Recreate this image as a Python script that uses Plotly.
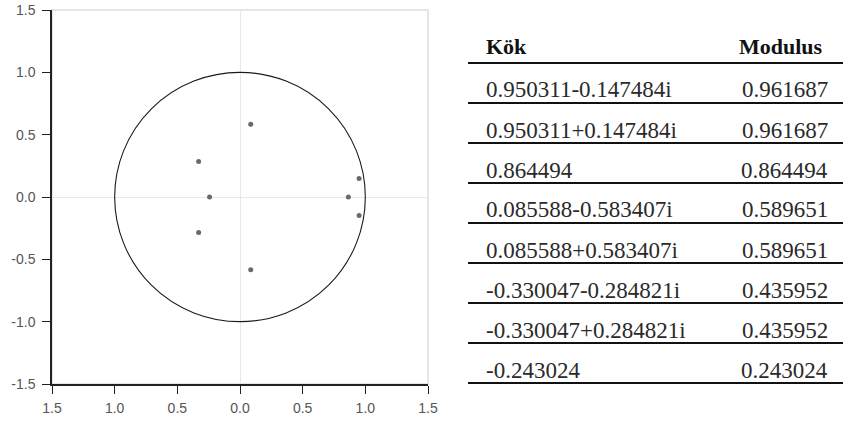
import plotly.graph_objects as go

# ---- data ----
root_re = [0.950311, 0.950311, 0.864494, 0.085588, 0.085588, -0.330047, -0.330047, -0.243024]
root_im = [-0.147484, 0.147484, 0.0, -0.583407, 0.583407, -0.284821, 0.284821, 0.0]
root_labels = ["0.950311-0.147484i", "0.950311+0.147484i", "0.864494",
               "0.085588-0.583407i", "0.085588+0.583407i", "-0.330047-0.284821i",
               "-0.330047+0.284821i", "-0.243024"]
modulus_labels = ["0.961687", "0.961687", "0.864494", "0.589651", "0.589651",
                  "0.435952", "0.435952", "0.243024"]
header = ["Kök", "Modulus"]
tick_vals = [-1.5, -1.0, -0.5, 0.0, 0.5, 1.0, 1.5]
x_tick_text = ["1.5", "1.0", "0.5", "0.0", "0.5", "1.0", "1.5"]
y_tick_text = ["-1.5", "-1.0", "-0.5", "0.0", "0.5", "1.0", "1.5"]

W, H = 843, 421
L, R, T, B = 52, 428, 10, 384  # plot area in pixels


def px(xp):
    return (xp - L) / (R - L)


def py(yp):
    return (B - yp) / (B - T)


fig = go.Figure()
fig.add_trace(go.Scatter(x=root_re, y=root_im, mode="markers",
                         marker=dict(size=5, color="#6a6a6a", symbol="circle"),
                         showlegend=False, hoverinfo="x+y"))

shapes = []
# light frame (top / right)
shapes.append(dict(type="rect", xref="paper", yref="paper", x0=0, x1=1, y0=0, y1=1,
                   line=dict(color="#dddddd", width=1.5), layer="below"))
# unit circle
shapes.append(dict(type="circle", xref="x", yref="y", x0=-1, x1=1, y0=-1, y1=1,
                   line=dict(color="#1a1a1a", width=1.1)))

# table lines
line_x0, line_x1 = 468, 843
row_h = 40
header_line = 63
for i in range(len(root_labels) + 1):
    yl = header_line + i * row_h
    shapes.append(dict(type="line", xref="paper", yref="paper",
                       x0=px(line_x0), x1=px(line_x1), y0=py(yl), y1=py(yl),
                       line=dict(color="#111111", width=2)))

annotations = []
font_txt = dict(family="Liberation Serif", size=23, color="#2a2a2a")
font_hdr = dict(family="Liberation Serif", size=22, color="#111111")
annotations.append(dict(xref="paper", yref="paper", x=px(484), y=py(47),
                        text="<b>" + header[0] + "</b>", showarrow=False,
                        xanchor="left", yanchor="middle", font=font_hdr))
annotations.append(dict(xref="paper", yref="paper", x=px(825), y=py(47),
                        text="<b>" + header[1] + "</b>", showarrow=False,
                        xanchor="right", yanchor="middle", font=font_hdr))
for i, (r, m) in enumerate(zip(root_labels, modulus_labels)):
    yc = header_line + (i + 1) * row_h - 13
    annotations.append(dict(xref="paper", yref="paper", x=px(484), y=py(yc), text=r,
                            showarrow=False, xanchor="left", yanchor="middle", font=font_txt))
    annotations.append(dict(xref="paper", yref="paper", x=px(830), y=py(yc), text=m,
                            showarrow=False, xanchor="right", yanchor="middle", font=font_txt))

axis_common = dict(range=[-1.5, 1.5], tickvals=tick_vals, showgrid=False,
                   zeroline=True, zerolinecolor="#e8e8e8", zerolinewidth=1,
                   showline=True, linecolor="#222222", linewidth=1.5,
                   ticks="outside", ticklen=8, tickcolor="#222222", tickwidth=1.2,
                   tickfont=dict(family="Liberation Sans", size=14, color="#555555"),
                   fixedrange=True, automargin=False)

fig.update_layout(
    width=W, height=H,
    margin=dict(l=L, r=W - R, t=T, b=H - B, autoexpand=False),
    paper_bgcolor="white", plot_bgcolor="white",
    xaxis=dict(**axis_common, ticktext=x_tick_text, ticklabelstandoff=2),
    yaxis=dict(**axis_common, ticktext=y_tick_text, ticklabelstandoff=4),
    shapes=shapes, annotations=annotations, showlegend=False,
)

fig.write_html("out.html", config={"displayModeBar": False},
               post_script="document.body.style.margin='0';")
